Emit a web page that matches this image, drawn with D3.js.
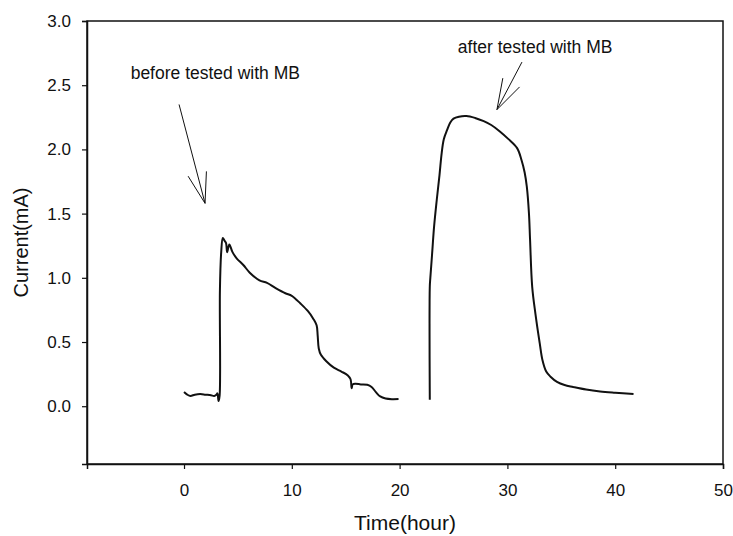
<!DOCTYPE html>
<html>
<head>
<meta charset="utf-8">
<script src="https://cdnjs.cloudflare.com/ajax/libs/d3/7.8.5/d3.min.js"></script>
<style>
  body { margin: 0; background: white; }
  text { font-family: 'Liberation Sans', Arial, sans-serif; fill: #111; }
</style>
</head>
<body>
<div id="chart"></div>
<script>
// before tested with MB
let beforeTime = [0.0, 0.3, 0.6, 1.0, 1.5, 2.0, 2.5, 2.8, 3.0, 3.1, 3.2, 3.3, 3.33, 3.45, 3.6, 3.75, 3.9, 4.0, 4.2, 4.5, 4.9, 5.5, 6.1, 7.0, 7.7, 8.5, 9.4, 10.0, 10.8, 11.5, 12.0, 12.3, 12.4, 12.5, 12.7, 13.2, 13.9, 14.6, 15.2, 15.45, 15.55, 15.65, 15.9, 16.4, 17.0, 17.4, 17.8, 18.2, 18.7, 19.3, 19.9];
let beforeCurrent = [0.11, 0.09, 0.08, 0.09, 0.095, 0.09, 0.085, 0.08, 0.09, 0.1, 0.04, 0.08, 0.9, 1.2, 1.31, 1.29, 1.27, 1.2, 1.26, 1.2, 1.15, 1.1, 1.04, 0.98, 0.96, 0.92, 0.88, 0.86, 0.8, 0.74, 0.68, 0.63, 0.55, 0.45, 0.4, 0.35, 0.3, 0.27, 0.24, 0.21, 0.14, 0.17, 0.175, 0.17, 0.167, 0.15, 0.11, 0.076, 0.06, 0.055, 0.056];

// after tested with MB
let afterTime = [22.8, 22.8, 22.85, 23.0, 23.2, 23.45, 23.7, 23.9, 24.1, 24.4, 24.7, 25.0, 25.5, 26.2, 27.0, 27.8, 28.5, 29.3, 30.1, 30.9, 31.3, 31.6, 31.8, 32.0, 32.1, 32.3, 32.6, 33.0, 33.25, 33.6, 34.0, 34.6, 35.3, 36.1, 37.3, 38.6, 40.0, 41.7];
let afterCurrent = [0.05, 0.93, 1.0, 1.17, 1.4, 1.61, 1.8, 1.97, 2.08, 2.15, 2.21, 2.24, 2.255, 2.26, 2.245, 2.22, 2.19, 2.14, 2.08, 2.01, 1.92, 1.82, 1.71, 1.5, 1.3, 0.93, 0.72, 0.49, 0.36, 0.27, 0.23, 0.19, 0.165, 0.15, 0.13, 0.115, 0.105, 0.095];

let xTicks = [0, 10, 20, 30, 40, 50];
let yTicks = [0, 0.5, 1.0, 1.5, 2.0, 2.5, 3.0];

// annotations: label anchor, arrow tail, arrow tip (data units)
let noteLabels = ['before tested with MB', 'after tested with MB'];
let noteText = [[-4.95, 2.55], [25.4, 2.75]];
let noteTail = [[-0.46, 2.35], [31.35, 2.68]];
let noteTip = [[1.95, 1.58], [29.03, 2.31]];

let width = 733, height = 536;
let margin = { top: 21, right: 10, bottom: 72, left: 87 };
let w = width - margin.left - margin.right;
let h = height - margin.top - margin.bottom;

let xScale = d3.scaleLinear().domain([-9, 50]).range([0, w]);
let yScale = d3.scaleLinear().domain([-0.45, 3.0]).range([h, 0]);

let svg = d3.select('#chart')
  .append('svg')
  .attr('width', width)
  .attr('height', height)
  .append('g')
  .attr('transform', 'translate(' + margin.left + ',' + margin.top + ')');

// frame
svg.append('rect')
  .attr('width', w)
  .attr('height', h)
  .attr('fill', 'none')
  .attr('stroke', '#111')
  .attr('stroke-width', 1.5);

let xAxis = svg.append('g')
  .attr('transform', 'translate(0,' + h + ')')
  .call(d3.axisBottom(xScale).tickValues(xTicks).tickSize(5).tickPadding(15).tickFormat(d3.format('d')));
let yAxis = svg.append('g')
  .call(d3.axisLeft(yScale).tickValues(yTicks).tickSize(5).tickPadding(11).tickFormat(d3.format('.1f')));

[xAxis, yAxis].forEach(a => {
  a.select('.domain').attr('stroke', '#111').attr('stroke-width', 1.5);
  a.selectAll('.tick line').attr('stroke', '#111').attr('stroke-width', 1.2);
  a.selectAll('.tick text').style('font-size', '17px').attr('fill', '#111')
    .style('font-family', "'Liberation Sans', Arial, sans-serif");
});

// axis titles
svg.append('text')
  .attr('x', w / 2)
  .attr('y', h + 66)
  .style('text-anchor', 'middle')
  .style('font-size', '21px')
  .text('Time(hour)');
svg.append('text')
  .attr('transform', 'translate(' + (28 - margin.left) + ',' + (h / 2) + ') rotate(-90)')
  .style('text-anchor', 'middle')
  .style('font-size', '20px')
  .text('Current(mA)');

let line = d3.line()
  .x(d => xScale(d[0]))
  .y(d => yScale(d[1]))
  .curve(d3.curveCatmullRom.alpha(0.5));

let series = [
  d3.zip(beforeTime, beforeCurrent),
  d3.zip(afterTime, afterCurrent)
];

svg.selectAll('path.curve')
  .data(series)
  .enter()
  .append('path')
  .attr('class', 'curve')
  .attr('d', line)
  .attr('fill', 'none')
  .attr('stroke', '#111')
  .attr('stroke-width', 2)
  .attr('stroke-linejoin', 'round');

// annotation labels
svg.selectAll('text.note')
  .data(noteLabels)
  .enter()
  .append('text')
  .attr('class', 'note')
  .attr('x', (d, i) => xScale(noteText[i][0]))
  .attr('y', (d, i) => yScale(noteText[i][1]))
  .style('font-size', '17.5px')
  .text(d => d);

// open arrowheads drawn as two short lines
let arrowPath = function(i) {
  let x0 = xScale(noteTail[i][0]), y0 = yScale(noteTail[i][1]);
  let x1 = xScale(noteTip[i][0]), y1 = yScale(noteTip[i][1]);
  let ang = Math.atan2(y1 - y0, x1 - x0);
  let len = 32, spread = 0.3;
  let p = 'M' + x0 + ',' + y0 + 'L' + x1 + ',' + y1;
  p += 'M' + (x1 - len * Math.cos(ang - spread)) + ',' + (y1 - len * Math.sin(ang - spread)) + 'L' + x1 + ',' + y1;
  p += 'L' + (x1 - len * Math.cos(ang + spread)) + ',' + (y1 - len * Math.sin(ang + spread));
  return p;
};

svg.selectAll('path.arrow')
  .data(noteLabels)
  .enter()
  .append('path')
  .attr('class', 'arrow')
  .attr('d', (d, i) => arrowPath(i))
  .attr('fill', 'none')
  .attr('stroke', '#111')
  .attr('stroke-width', 1);
</script>
</body>
</html>
